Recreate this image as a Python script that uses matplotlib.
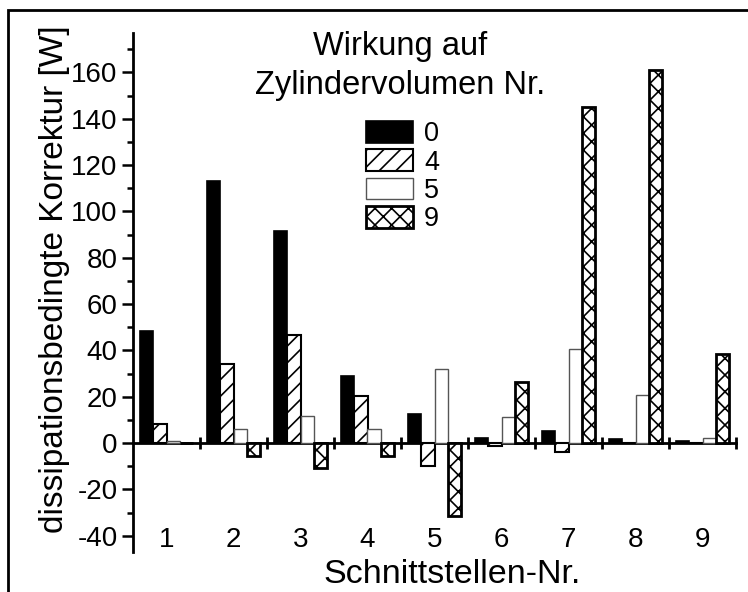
import numpy as np
import matplotlib
matplotlib.use("Agg")
import matplotlib.pyplot as plt
from matplotlib.patches import Rectangle

plt.rcParams['font.family'] = ['Liberation Sans', 'DejaVu Sans']
plt.rcParams['axes.unicode_minus'] = False
plt.rcParams['hatch.linewidth'] = 1.2

# Schnittstellen 1..9, je 4 Zylindervolumen
stellen = np.arange(1, 10)
volumen = ['0', '4', '5', '9']
vol0 = [48.4, 113.3, 91.5, 29.1, 12.5, 2.0, 5.3, 1.6, 0.7]
vol4 = [8.1, 34.0, 46.6, 20.3, -9.8, -1.1, -3.9, 0.0, 0.0]
vol5 = [1.0, 6.2, 11.5, 6.3, 32.0, 11.4, 40.8, 20.9, 2.3]
vol9 = [0.0, -5.6, -10.7, -5.6, -31.6, 26.2, 145.0, 161.2, 38.6]

fig = plt.figure(figsize=(7.48, 5.92), dpi=100)
ax = fig.add_axes([133 / 748, 40 / 592, 603 / 748, 519 / 592])

w = 0.2
styles = [
    dict(facecolor='black', edgecolor='black', linewidth=1.2),
    dict(facecolor='white', edgecolor='black', linewidth=1.5, hatch='//'),
    dict(facecolor='white', edgecolor='#555555', linewidth=1.0),
    dict(facecolor='white', edgecolor='black', linewidth=2.0, hatch='xx'),
]
for k, (vals, lab) in enumerate(zip([vol0, vol4, vol5, vol9], volumen)):
    ax.bar(stellen + (k - 1.5) * w, vals, width=w, label=lab, **styles[k])

ymin, ymax = -47, 177
ax.set_xlim(0.5, 9.5)
ax.set_ylim(ymin, ymax)

ax.spines['top'].set_visible(False)
ax.spines['right'].set_visible(False)
ax.spines['bottom'].set_visible(False)
ax.spines['left'].set_linewidth(2)

ax.set_yticks(np.arange(-40, 161, 20))
ax.set_yticks(np.arange(-40, 171, 10), minor=True)
ax.tick_params(axis='y', which='major', direction='out', length=8, width=1.8,
               labelsize=20, pad=3)
ax.tick_params(axis='y', which='minor', direction='out', length=4, width=1.8)

ax.set_xticks(stellen)
ax.set_xticklabels([str(s) for s in stellen])
ax.tick_params(axis='x', which='both', length=0, labelsize=20, pad=-18)

# Nulllinie mit Trennstrichen zwischen den Schnittstellen
sec = ax.secondary_xaxis((0 - ymin) / (ymax - ymin))
sec.set_xticks(np.arange(1.5, 10, 1))
sec.set_xticklabels([])
sec.tick_params(direction='inout', length=9, width=2)
sec.spines['bottom'].set_linewidth(2)

ax.set_ylabel('dissipationsbedingte Korrektur [W]', fontsize=24)
ax.yaxis.set_label_coords(-0.105, 0.525)
ax.set_xlabel('Schnittstellen-Nr.', fontsize=24.5)
ax.xaxis.set_label_coords(0.529, -0.014)

fig.text(400 / 748, 1 - 31 / 592, 'Wirkung auf\nZylindervolumen Nr.', fontsize=23.5,
         ha='center', va='top', linespacing=1.32)

ax.legend(loc='upper left', bbox_to_anchor=(366 / 748, 1 - 121 / 592),
          bbox_transform=fig.transFigure, frameon=False, fontsize=19.5,
          borderpad=0, borderaxespad=0, handlelength=1.75, handleheight=0.85,
          labelspacing=0.08, handletextpad=0.4)

fig.add_artist(Rectangle((8 / 748, -0.05), 1.0, 1 - 10 / 592 + 0.05,
                         transform=fig.transFigure, fill=False,
                         edgecolor='black', linewidth=2))

fig.savefig('out.png', dpi=100)
